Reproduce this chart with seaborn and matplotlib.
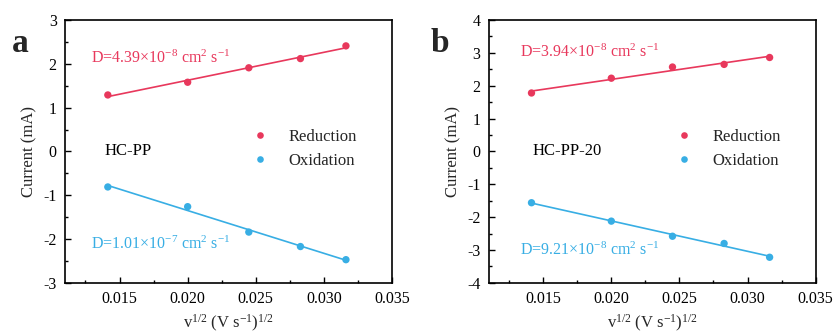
import numpy as np
import pandas as pd
import matplotlib
matplotlib.use("Agg")
import matplotlib.pyplot as plt
from matplotlib.ticker import MultipleLocator
import seaborn as sns

sns.set_theme(style="ticks")
plt.rcParams["font.family"] = ["Liberation Serif", "DejaVu Serif"]
plt.rcParams["mathtext.fontset"] = "custom"
plt.rcParams["mathtext.rm"] = "Liberation Serif"
plt.rcParams["mathtext.it"] = "Liberation Serif:italic"
plt.rcParams["axes.unicode_minus"] = False

# square root of scan rate, (V s^-1)^1/2
sqrt_rate = [0.01414, 0.02000, 0.02449, 0.02828, 0.03162]

# HC-PP peak currents (mA)
hcpp_red = [1.29, 1.58, 1.91, 2.12, 2.41]
hcpp_ox = [-0.81, -1.26, -1.84, -2.17, -2.47]

# HC-PP-20 peak currents (mA)
hcpp20_red = [1.78, 2.23, 2.57, 2.65, 2.86]
hcpp20_ox = [-1.56, -2.12, -2.58, -2.80, -3.22]

samples = ["HC-PP", "HC-PP-20"]
panel_letters = ["a", "b"]
d_red = ["D=4.39×10$^{-8}$ cm$^{2}$ s$^{-1}$", "D=3.94×10$^{-8}$ cm$^{2}$ s$^{-1}$"]
d_ox = ["D=1.01×10$^{-7}$ cm$^{2}$ s$^{-1}$", "D=9.21×10$^{-8}$ cm$^{2}$ s$^{-1}$"]
x_ticks = [0.015, 0.020, 0.025, 0.030, 0.035]

RED = "#E8385C"
BLUE = "#38AEE4"

fig = plt.figure(figsize=(8.34, 3.34), dpi=100)
axes = [fig.add_axes([0.078, 0.153, 0.392, 0.787]),
        fig.add_axes([0.586, 0.153, 0.392, 0.787])]

series = [(hcpp_red, hcpp_ox), (hcpp20_red, hcpp20_ox)]
ylims = [(-3, 3), (-4, 4)]
red_y = [2.13, 3.03]
ox_y = [-2.13, -3.0]
name_x = [0.0139, 0.0142]
ann_x = [0.0129, 0.0133]
fs = 11.5

for i, ax in enumerate(axes):
    red, ox = series[i]
    df = pd.DataFrame({
        "x": sqrt_rate * 2,
        "I": red + ox,
        "kind": ["Reduction"] * 5 + ["Oxidation"] * 5,
    })
    pal = {"Reduction": RED, "Oxidation": BLUE}
    for kind in ["Reduction", "Oxidation"]:
        sub = df[df["kind"] == kind]
        sns.regplot(data=sub, x="x", y="I", ax=ax, scatter=False, ci=None,
                    truncate=True, color=pal[kind], line_kws={"lw": 1.2})
    sns.scatterplot(data=df, x="x", y="I", hue="kind", palette=pal, ax=ax,
                    s=28, edgecolor="none", zorder=5)

    ax.set_xlim(0.011, 0.035)
    ax.set_ylim(*ylims[i])
    ax.set_xticks(x_ticks)
    ax.set_xticklabels([f"{t:.3f}" for t in x_ticks])
    ax.xaxis.set_minor_locator(MultipleLocator(0.0025))
    ax.yaxis.set_major_locator(MultipleLocator(1))
    ax.yaxis.set_minor_locator(MultipleLocator(0.5))
    ax.tick_params(which="both", direction="in", labelsize=fs, top=False, right=False,
                   color="black", labelcolor="black")
    ax.tick_params(which="major", length=4, width=1, pad=6)
    ax.tick_params(which="minor", length=2.5, width=1)
    for sp in ax.spines.values():
        sp.set_linewidth(1.2)
        sp.set_color("black")

    ax.set_xlabel("v$^{1/2}$ (V s$^{-1}$)$^{1/2}$", fontsize=12, labelpad=4)
    ax.set_ylabel("Current (mA)", fontsize=12, labelpad=4)

    ax.text(ann_x[i], red_y[i], d_red[i], color=RED, fontsize=fs, va="center", ha="left")
    ax.text(ann_x[i], ox_y[i], d_ox[i], color=BLUE, fontsize=fs, va="center", ha="left")
    ax.text(name_x[i], 0, samples[i], color="black", fontsize=12, va="center", ha="left")

    ax.legend(loc="center left", bbox_to_anchor=(0.50, 0.51), frameon=False,
              fontsize=12, handletextpad=0.7, labelspacing=0.5, markerscale=0.9)

    fig.text(0.024 + 0.504 * i, 0.87, panel_letters[i], fontsize=24, fontweight="bold",
             ha="center", va="center")

fig.savefig("out.png", dpi=100)
